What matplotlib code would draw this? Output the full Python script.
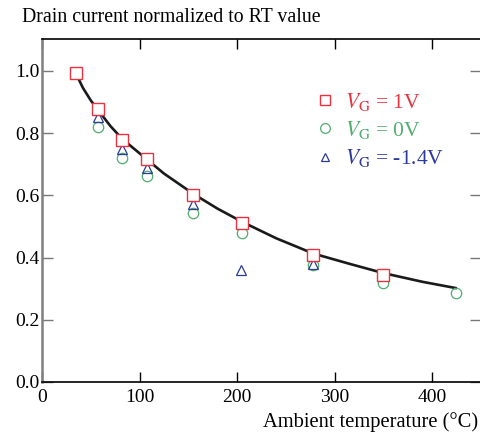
import matplotlib
matplotlib.use("Agg")
import matplotlib.pyplot as plt
from matplotlib.lines import Line2D

plt.rcParams['font.family'] = ['Liberation Serif', 'DejaVu Serif']
plt.rcParams['mathtext.fontset'] = 'stix'

# data
temp_sq = [35, 57, 82, 108, 155, 205, 278, 350]
vg1 = [0.994, 0.878, 0.777, 0.718, 0.602, 0.510, 0.409, 0.344]

temp_ci = [57, 82, 108, 155, 205, 278, 350, 424]
vg0 = [0.819, 0.721, 0.661, 0.542, 0.478, 0.376, 0.317, 0.286]

temp_tr = [57, 82, 108, 155, 204, 278]
vgm14 = [0.851, 0.749, 0.689, 0.573, 0.360, 0.380]

fit_t = [35, 42, 50, 58, 70, 82, 100, 125, 155, 180, 205, 240, 278, 315, 350, 390, 424]
fit_v = [0.99, 0.945, 0.905, 0.872, 0.823, 0.782, 0.735, 0.670, 0.605, 0.557, 0.515, 0.462, 0.413, 0.380, 0.350, 0.322, 0.302]

labels = [r'$V_{\mathrm{G}}$ = 1V', r'$V_{\mathrm{G}}$ = 0V', r'$V_{\mathrm{G}}$ = -1.4V']
xticks = [0, 100, 200, 300, 400]
yticks = [0.0, 0.2, 0.4, 0.6, 0.8, 1.0]

c_red = '#e8323f'
c_green = '#4fae6e'
c_blue = '#2c3a98'

fig = plt.figure(figsize=(4.81, 4.32), dpi=100)
ax = fig.add_axes([42/481, 50/432, 1 - 42/481, (382 - 38.5)/432])

ax.plot(fit_t, fit_v, color='#1a1a1a', lw=1.9, zorder=2)
ax.plot(temp_ci, vg0, ls='none', marker='o', ms=7.5, mfc='none', mec=c_green, mew=0.9, zorder=3)
ax.plot(temp_tr, vgm14, ls='none', marker='^', ms=6.5, mfc='none', mec=c_blue, mew=0.9, zorder=3)
ax.plot(temp_sq, vg1, ls='none', marker='s', ms=8.5, mfc='white', mec=c_red, mew=1.0, zorder=4)

ax.set_xlim(0, 450)
ax.set_ylim(0, 1.104)
ax.set_xticks(xticks)
ax.set_xticklabels([str(t) for t in xticks])
ax.set_yticks(yticks)
ax.set_yticklabels([f'{v:.1f}' for v in yticks])

ax.tick_params(axis='both', direction='in', labelsize=14, length=7, width=1.0)
ax.tick_params(axis='x', top=True, colors='black', pad=5)
ax.tick_params(axis='y', right=True, color='#777777', labelcolor='black', pad=2, length=8)

ax.spines['right'].set_visible(False)
ax.spines['left'].set_color('#808080')
ax.spines['left'].set_linewidth(1.8)
ax.spines['bottom'].set_linewidth(1.2)
ax.spines['top'].set_linewidth(1.2)

fig.text(22/481, 1 - 17/432, 'Drain current normalized to RT value', fontsize=14.3,
         ha='left', va='center')
fig.text(478/481, 1 - 422/432, 'Ambient temperature (°C)', fontsize=14.8,
         ha='right', va='center')

handles = [
    Line2D([], [], ls='none', marker='s', ms=7, mfc='none', mec=c_red, mew=1.0),
    Line2D([], [], ls='none', marker='o', ms=7, mfc='none', mec=c_green, mew=0.9),
    Line2D([], [], ls='none', marker='^', ms=6, mfc='none', mec=c_blue, mew=0.9),
]
leg = ax.legend(handles, labels, loc='upper left', bbox_to_anchor=(0.575, 0.905),
                frameon=False, fontsize=15.5, handletextpad=0.45, labelspacing=0.3,
                handlelength=1.0)
for t, c in zip(leg.get_texts(), [c_red, c_green, c_blue]):
    t.set_color(c)

fig.savefig('out.png', dpi=100)
